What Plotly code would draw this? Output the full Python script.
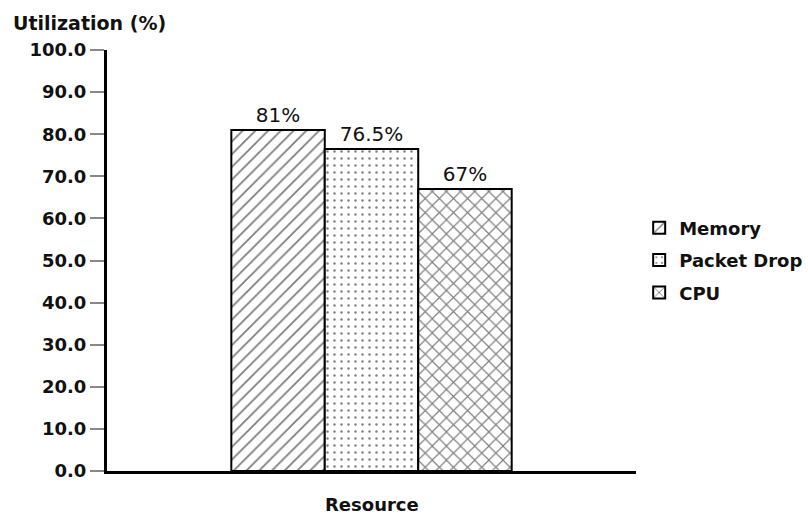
import plotly.graph_objects as go

# Resource utilization data
category = ["Resource"]
series_names = ["Memory", "Packet Drop", "CPU"]
series_values = [81, 76.5, 67]
series_labels = ["81%", "76.5%", "67%"]
series_patterns = ["/", ".", "x"]
y_ticks = [0, 10, 20, 30, 40, 50, 60, 70, 80, 90, 100]
y_tick_text = [f"{v:.1f}" for v in y_ticks]

FONT = "DejaVu Sans"
pattern_size = {"/": 9, ".": 7, "x": 10}
pattern_solidity = {"/": 0.2, ".": 0.1, "x": 0.22}

fig = go.Figure()
for name, val, lab, pat in zip(series_names, series_values, series_labels, series_patterns):
    fig.add_trace(go.Bar(
        name=name,
        legendgroup=name,
        x=category,
        y=[val],
        text=[lab],
        textposition="outside",
        cliponaxis=False,
        textfont=dict(family=FONT, size=20, color="#111"),
        marker=dict(
            color="white",
            line=dict(color="black", width=2),
            pattern=dict(shape=pat, fgcolor="black", bgcolor="white",
                         size=pattern_size[pat],
                         solidity=pattern_solidity[pat]),
        ),
    ))

fig.update_layout(
    width=808, height=515,
    margin=dict(l=107, r=172, t=50, b=44, autoexpand=False),
    paper_bgcolor="white", plot_bgcolor="white",
    barmode="group",
    bargap=0.47, bargroupgap=0,
    font=dict(family=FONT, color="#111"),
    showlegend=True,
    legend=dict(
        x=1.006, y=0.5, xanchor="left", yanchor="middle",
        font=dict(family=FONT, size=18, color="#111", weight="bold"),
        bgcolor="rgba(0,0,0,0)", itemwidth=30, tracegroupgap=6,
    ),
    xaxis=dict(
        showticklabels=False, ticks="",
        showline=True, linecolor="black", linewidth=3,
        showgrid=False, zeroline=False,
        range=[-0.5, 0.5],
    ),
    yaxis=dict(
        range=[0, 100],
        tickvals=y_ticks, ticktext=y_tick_text,
        ticks="outside", ticklen=14, tickwidth=1.5, tickcolor="#888",
        tickfont=dict(family=FONT, size=18, color="#111", weight="bold"),
        showline=True, linecolor="black", linewidth=3,
        showgrid=False, zeroline=False,
    ),
    annotations=[
        dict(text="Utilization (%)", xref="paper", yref="paper",
             x=-0.182, y=1.0, xanchor="left", yanchor="bottom", yshift=14,
             showarrow=False,
             font=dict(family=FONT, size=19, color="#111", weight="bold")),
        dict(text="Resource", xref="paper", yref="paper",
             x=0.5, y=0, xanchor="center", yanchor="middle", yshift=-33,
             showarrow=False,
             font=dict(family=FONT, size=18, color="#111", weight="bold")),
    ],
)

fig.write_html("out.html")
